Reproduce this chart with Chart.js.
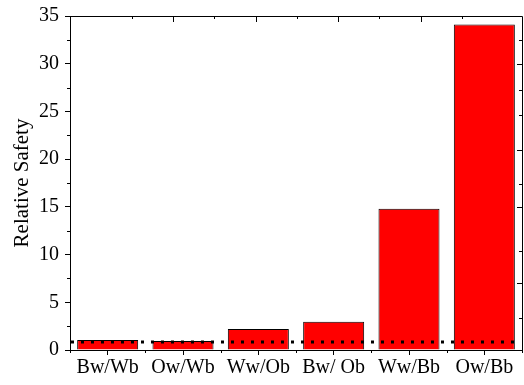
<!DOCTYPE html>
<html><head><meta charset="utf-8">
<script src="https://cdn.jsdelivr.net/npm/chart.js@4"></script>
<style>html,body{margin:0;padding:0;background:#fff}</style>
</head><body>
<canvas id="c" width="524" height="385"></canvas>
<script>
const categories = ["Bw/Wb", "Ow/Wb", "Ww/Ob", "Bw/ Ob", "Ww/Bb", "Ow/Bb"];
const safetyValues = [1.05, 0.95, 2.2, 2.95, 14.8, 34.1];
const referenceLevel = 0.85;
const yMin = 0, yMax = 35, yStep = 5;
const yMinorTicks = [2.5, 7.5, 12.5, 17.5, 22.5, 27.5, 32.5];
const topAxisMax = 4.98;
const topMajorTicks = [1, 2, 3, 4];
const topMinorTicks = [0.5, 1.5, 2.5, 3.5, 4.5];
const rightMajorTicks = [7, 15, 21, 30];
const rightMinorTicks = [3.4, 10.4, 17.4, 24.6, 27.2, 32.5];

const FONT = "'Liberation Serif', 'Times New Roman', serif";

const extraTicks = {
  id: 'extraTicks',
  afterDatasetsDraw(chart) {
    const { ctx, chartArea: a, scales } = chart;
    const x = scales.x, y = scales.y, xt = scales.xt, yr = scales.yr;
    ctx.save();
    const ry = Math.round(y.getPixelForValue(referenceLevel));
    ctx.strokeStyle = '#000';
    ctx.lineWidth = 3;
    ctx.setLineDash([3, 7]);
    ctx.beginPath();
    ctx.moveTo(a.left + 1, ry);
    ctx.lineTo(a.right - 1, ry);
    ctx.stroke();
    ctx.setLineDash([]);
    ctx.lineWidth = 1;
    ctx.beginPath();
    ctx.moveTo(a.left, Math.round(a.top) + 0.5);
    ctx.lineTo(Math.round(a.right) + 0.5, Math.round(a.top) + 0.5);
    ctx.lineTo(Math.round(a.right) + 0.5, Math.round(a.bottom));
    ctx.stroke();
    ctx.beginPath();
    for (let i = 0; i <= categories.length; i++) {
      const px = Math.round(x.getPixelForValue(i - 0.5)) + 0.5;
      ctx.moveTo(px, a.bottom);
      ctx.lineTo(px, a.bottom + 3);
    }
    yMinorTicks.forEach(v => {
      const py = Math.round(y.getPixelForValue(v)) + 0.5;
      ctx.moveTo(a.left, py);
      ctx.lineTo(a.left - 3, py);
    });
    topMajorTicks.forEach(v => {
      const px = Math.round(xt.getPixelForValue(v)) + 0.5;
      ctx.moveTo(px, a.top);
      ctx.lineTo(px, a.top + 6);
    });
    topMinorTicks.forEach(v => {
      const px = Math.round(xt.getPixelForValue(v)) + 0.5;
      ctx.moveTo(px, a.top);
      ctx.lineTo(px, a.top + 3);
    });
    rightMajorTicks.forEach(v => {
      const py = Math.round(yr.getPixelForValue(v)) + 0.5;
      ctx.moveTo(a.right, py);
      ctx.lineTo(a.right - 5, py);
    });
    rightMinorTicks.forEach(v => {
      const py = Math.round(yr.getPixelForValue(v)) + 0.5;
      ctx.moveTo(a.right, py);
      ctx.lineTo(a.right - 3, py);
    });
    ctx.stroke();
    ctx.restore();
  }
};

new Chart(document.getElementById('c'), {
  type: 'bar',
  data: {
    labels: categories,
    datasets: [{
      data: safetyValues,
      backgroundColor: '#FF0000',
      borderColor: '#000000',
      borderWidth: 1,
      borderSkipped: 'bottom',
      barPercentage: 0.81,
      categoryPercentage: 1.0
    }]
  },
  options: {
    responsive: false,
    devicePixelRatio: 1,
    animation: false,
    layout: { padding: { top: 15, right: 2, left: 0, bottom: 0 } },
    plugins: { legend: { display: false }, tooltip: { enabled: false } },
    scales: {
      x: {
        type: 'category',
        offset: true,
        grid: { display: true, drawOnChartArea: false, offset: false, tickLength: 5, color: '#000', lineWidth: 1 },
        border: { display: true, color: '#000', width: 1 },
        ticks: { font: { family: FONT, size: 20 }, color: '#000', padding: 1, maxRotation: 0, autoSkip: false },
        afterFit(s) { s.height = 35; }
      },
      y: {
        min: yMin, max: yMax,
        ticks: { stepSize: yStep, font: { family: FONT, size: 20, lineHeight: 1.0 }, color: '#000', padding: 6 },
        grid: { display: true, drawOnChartArea: false, tickLength: 5, color: '#000', lineWidth: 1 },
        border: { display: true, color: '#000', width: 1 },
        title: { display: true, text: 'Relative Safety', font: { family: FONT, size: 21 }, color: '#000', padding: { top: 10, bottom: 0 } },
        afterFit(s) { s.width = 70; }
      },
      xt: { type: 'linear', display: false, min: 0, max: topAxisMax },
      yr: { type: 'linear', display: false, min: yMin, max: yMax, position: 'right' }
    }
  },
  plugins: [extraTicks]
});
</script>
</body></html>
